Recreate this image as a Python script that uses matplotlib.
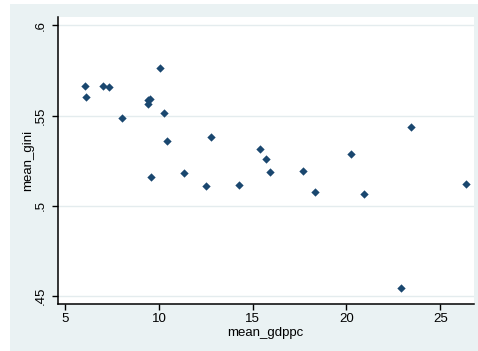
import matplotlib
matplotlib.use("Agg")
import matplotlib.pyplot as plt
from matplotlib.patches import Rectangle

plt.rcParams["font.family"] = ["Liberation Sans", "DejaVu Sans"]

# data
mean_gdppc = [6.07, 6.12, 7.01, 7.33, 8.02, 10.08, 9.41, 9.44, 9.53, 10.29,
              10.42, 12.75, 9.57, 11.36, 12.50, 14.29, 23.44, 15.41, 15.73,
              15.94, 17.70, 20.26, 18.31, 20.94, 26.38, 22.91]
mean_gini = [0.5665, 0.5604, 0.5665, 0.5659, 0.5488, 0.5764, 0.5565, 0.5585,
             0.5593, 0.5515, 0.5361, 0.5379, 0.5162, 0.5184, 0.5107, 0.5114,
             0.5438, 0.5317, 0.5261, 0.5190, 0.5195, 0.5289, 0.5079, 0.5068,
             0.5123, 0.4543]
xticks = [5, 10, 15, 20, 25]
yticks = [0.45, 0.5, 0.55, 0.6]
ylabels = [".45", ".5", ".55", ".6"]

NAVY = "#1a476f"
BG = "#eaf2f3"
W, H = 478, 351

fig = plt.figure(figsize=(W / 100, H / 100), dpi=100)
bg = Rectangle((10 / W, 0), 1 - 10 / W, 1 - 4 / H,
               transform=fig.transFigure, facecolor=BG,
               edgecolor="none", zorder=-10)
fig.add_artist(bg)

ax = fig.add_axes([57.5 / W, 1 - 304 / H, (474 - 57.5) / W, (304 - 17) / H])
ax.set_zorder(1)
ax.set_facecolor("white")
ax.scatter(mean_gdppc, mean_gini, marker="D", s=18, color=NAVY,
           linewidths=0, zorder=3)

ax.set_xlim(4.59, 26.8)
ax.set_ylim(0.4456, 0.6046)
ax.set_xticks(xticks)
ax.set_yticks(yticks)
ax.set_yticklabels(ylabels, rotation=90, va="center")
ax.grid(axis="y", color="#e4ecee", lw=1)
ax.set_axisbelow(True)

for s in ["top", "right"]:
    ax.spines[s].set_visible(False)
for s in ["left", "bottom"]:
    ax.spines[s].set_linewidth(1.1)
ax.tick_params(direction="out", length=4, width=1, labelsize=9.5, pad=3.5)
ax.tick_params(axis="x", pad=2.5)

ax.set_xlabel("mean_gdppc", fontsize=9.5)
ax.xaxis.set_label_coords(0.5, -0.079)
ax.xaxis.label.set_va("top")
ax.set_ylabel("mean_gini", fontsize=9.5)
ax.yaxis.set_label_coords(-0.056, 0.5)

fig.savefig("out.png", dpi=100)
